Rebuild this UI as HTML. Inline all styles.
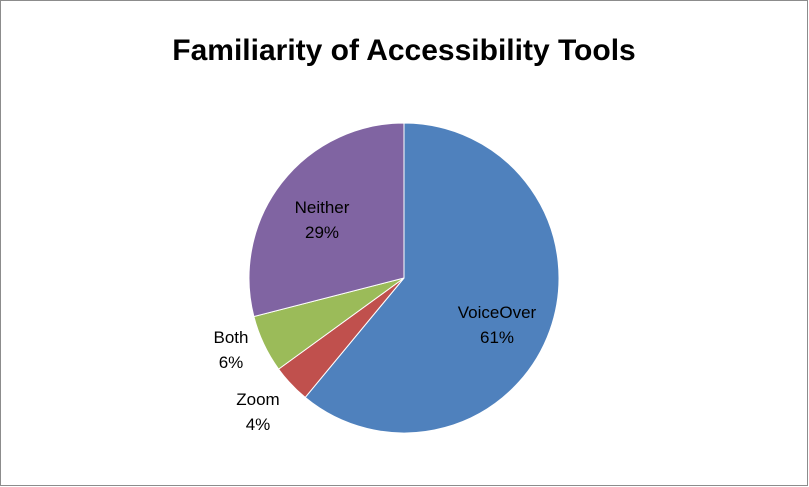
<!DOCTYPE html>
<html><head><meta charset="utf-8"><style>
html,body{margin:0;padding:0;background:#fff;}
svg{display:block;font-family:"Liberation Sans",sans-serif;}
</style></head><body>
<svg width="809" height="487">
<rect x="0.5" y="0.5" width="807" height="485" fill="#fff" stroke="#8c8c8c"/>
<text x="404" y="60" text-anchor="middle" font-size="30" font-weight="bold" fill="#000">Familiarity of Accessibility Tools</text>
<g id="pie"></g>
</svg>
<script>
const categories = ["VoiceOver","Zoom","Both","Neither"];
const values = [61,4,6,29];
const colors = ["#4F81BD","#C0504D","#9BBB59","#8064A2"];
const labelPos = [[497,318],[258,405],[231,343],[322,213]];
const cx=404, cy=278, r=155;
const g=document.getElementById('pie');
const NS="http://www.w3.org/2000/svg";
const total=values.reduce((a,b)=>a+b,0);
let acc=0;
function pt(f){const a=f*2*Math.PI;return [cx+r*Math.sin(a), cy-r*Math.cos(a)];}
values.forEach((v,i)=>{
  const f0=acc/total, f1=(acc+v)/total; acc+=v;
  const p0=pt(f0), p1=pt(f1);
  const large=(f1-f0)>0.5?1:0;
  const p=document.createElementNS(NS,'path');
  p.setAttribute('d',`M${cx},${cy} L${p0[0]},${p0[1]} A${r},${r} 0 ${large} 1 ${p1[0]},${p1[1]} Z`);
  p.setAttribute('fill',colors[i]);
  p.setAttribute('stroke','#fff');
  p.setAttribute('stroke-width','1');
  
  
  g.appendChild(p);
  const t=document.createElementNS(NS,'text');
  t.setAttribute('x',labelPos[i][0]);
  t.setAttribute('y',labelPos[i][1]);
  t.setAttribute('text-anchor','middle');
  t.setAttribute('font-size','17');
  t.setAttribute('fill','#000');
  
  
  const s1=document.createElementNS(NS,'tspan');
  s1.setAttribute('x',labelPos[i][0]);
  s1.textContent=categories[i];
  const s2=document.createElementNS(NS,'tspan');
  s2.setAttribute('x',labelPos[i][0]);
  s2.setAttribute('dy','25');
  s2.textContent=Math.round(v/total*100)+'%';
  t.appendChild(s1);t.appendChild(s2);
  g.appendChild(t);
});
</script>
</body></html>
